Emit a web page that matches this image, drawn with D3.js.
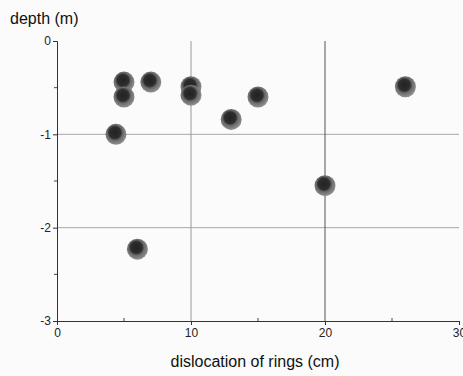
<!DOCTYPE html>
<html>
<head>
<meta charset="utf-8">
<script src="https://cdn.jsdelivr.net/npm/d3@7"></script>
<style>
  body { margin: 0; background: #fbfbfb; }
  svg { display: block; font-family: "Liberation Sans", Arial, sans-serif; }
</style>
</head>
<body>
<div id="chart"></div>
<script>
// dislocation of rings (cm) vs depth (m)
const dislocation = [4.4, 5, 5, 7, 10, 10, 13, 15, 20, 26, 6];
const depth = [-1.0, -0.44, -0.6, -0.44, -0.49, -0.58, -0.84, -0.6, -1.55, -0.49, -2.23];
const xTicks = [0, 10, 20, 30];
const yTicks = [0, -1, -2, -3];
const xGrid = [10, 20];
const yGrid = [-1, -2];

const width = 463, height = 376;
const margin = { top: 41, right: 4, bottom: 55, left: 57 };

const svg = d3.select("#chart").append("svg").attr("width", width).attr("height", height);

const x = d3.scaleLinear().domain([0, 30]).range([margin.left, width - margin.right]);
const y = d3.scaleLinear().domain([0, -3]).range([margin.top, height - margin.bottom]);

const defs = svg.append("defs");
const grad = defs.append("radialGradient").attr("id", "dot").attr("cx", "45%").attr("cy", "42%").attr("r", "55%");
grad.append("stop").attr("offset", "0%").attr("stop-color", "#222");
grad.append("stop").attr("offset", "50%").attr("stop-color", "#2e2e2e");
grad.append("stop").attr("offset", "68%").attr("stop-color", "#6a6a6a");
grad.append("stop").attr("offset", "100%").attr("stop-color", "#8c8c8c");

// grid
svg.append("g").selectAll("line").data(yGrid).join("line")
    .attr("x1", x(0)).attr("x2", x(30))
    .attr("y1", d => y(d)).attr("y2", d => y(d))
    .attr("stroke", "#a8a8a8").attr("stroke-width", 1);
svg.append("g").selectAll("line").data(xGrid).join("line")
    .attr("x1", d => x(d)).attr("x2", d => x(d))
    .attr("y1", y(0)).attr("y2", y(-3))
    .attr("stroke", (d, i) => i === 1 ? "#555" : "#999").attr("stroke-width", 1);

// axes
const fmt = d => String(d);
const xAxis = svg.append("g").attr("transform", "translate(0," + y(-3) + ")")
    .call(d3.axisBottom(x).tickValues(xTicks).tickSize(4).tickPadding(3).tickFormat(fmt));
const yAxis = svg.append("g").attr("transform", "translate(" + x(0) + ",0)")
    .call(d3.axisLeft(y).tickValues(yTicks).tickSize(4).tickPadding(2).tickFormat(fmt));
[xAxis, yAxis].forEach(a => {
    a.select(".domain").attr("stroke", "#333");
    a.selectAll(".tick line").attr("stroke", "#333");
    a.selectAll("text").attr("font-size", 12).attr("fill", "#222").attr("font-family", "Liberation Sans, Arial, sans-serif");
});
// minor ticks
svg.append("g").selectAll("line").data([5, 15, 25]).join("line")
    .attr("x1", d => x(d)).attr("x2", d => x(d))
    .attr("y1", y(-3)).attr("y2", y(-3) - 3).attr("stroke", "#444");
svg.append("g").selectAll("line").data([-0.5, -1.5, -2.5]).join("line")
    .attr("x1", x(0)).attr("x2", x(0) - 3)
    .attr("y1", d => y(d)).attr("y2", d => y(d)).attr("stroke", "#444");

// points
svg.append("g").selectAll("circle").data(dislocation.map((d, i) => [d, depth[i]])).join("circle")
    .attr("cx", d => x(d[0])).attr("cy", d => y(d[1]))
    .attr("r", 10.5).attr("fill", "url(#dot)");

// axis titles
svg.append("text").attr("x", 10).attr("y", 24).attr("font-size", 16).attr("fill", "#111").text("depth (m)");
svg.append("text").attr("x", 255).attr("y", 367).attr("text-anchor", "middle")
    .attr("font-size", 16).attr("fill", "#111").text("dislocation of rings (cm)");
</script>
</body>
</html>
